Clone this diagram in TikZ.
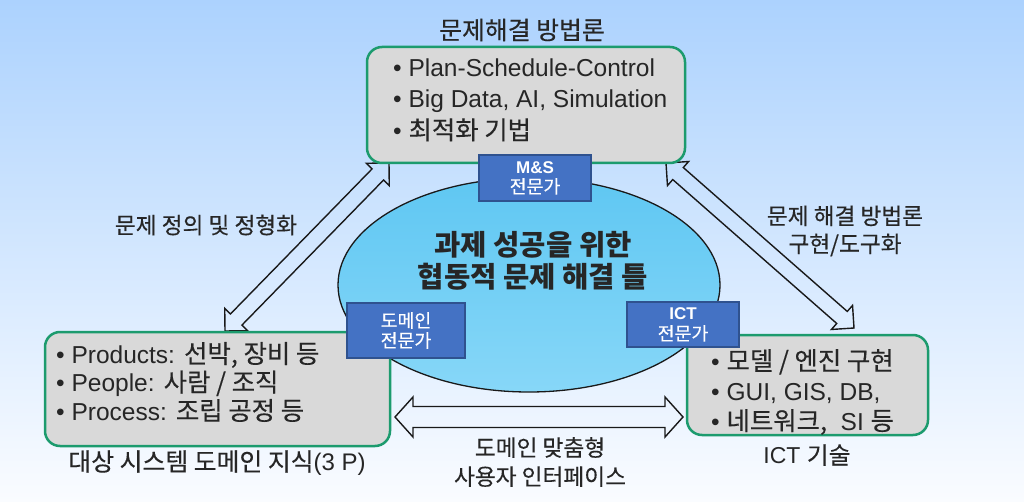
\documentclass[tikz,border=0pt]{standalone}
\usepackage{fontspec}
\setmainfont{Liberation Sans}
\newfontfamily\kr[Scale=1.08, UprightFeatures={FakeBold=0.3}]{Noto Sans CJK KR}
\usetikzlibrary{shapes.geometric,calc}
\definecolor{bgtop}{RGB}{172,210,254}
\definecolor{bgbot}{RGB}{250,252,255}
\definecolor{boxgray}{RGB}{217,217,217}
\definecolor{boxgreen}{RGB}{28,155,110}
\definecolor{elltop}{RGB}{95,199,242}
\definecolor{ellbot}{RGB}{135,215,248}
\definecolor{blfill}{RGB}{68,114,196}
\definecolor{bldraw}{RGB}{47,82,143}
\newcommand\fs[2]{\fontsize{#1}{#2}\selectfont}
\newcommand\kb[1]{{\kr\fontsize{23.5}{28}\selectfont #1}}
\newcommand\dblarr[5]{%
  \coordinate (ah) at ($(#1)!#5!(#2)$);
  \coordinate (bh) at ($(#2)!#5!(#1)$);
  \draw[arrowline] (#1) -- ($(ah)!#4!90:(#2)$) -- ($(ah)!#3!90:(#2)$)
    -- ($(bh)!#3!-90:(#1)$) -- ($(bh)!#4!-90:(#1)$) -- (#2)
    -- ($(bh)!#4!90:(#1)$) -- ($(bh)!#3!90:(#1)$)
    -- ($(ah)!#3!-90:(#2)$) -- ($(ah)!#4!-90:(#2)$) -- cycle;}
\begin{document}
\begin{tikzpicture}[x=1pt,y=-1pt,
  graybox/.style={draw=boxgreen, line width=2.5pt, fill=boxgray, rounded corners=15pt, inner sep=0pt},
  bluebox/.style={draw=bldraw, line width=1.3pt, fill=blfill, text=white, align=center, inner sep=0pt},
  txt/.style={inner sep=0pt, text=black!85},
  arrowline/.style={draw=black!90, line width=1.4pt, line join=miter}]
\useasboundingbox (0,0) rectangle (1024,502);
\shade[top color=bgtop, bottom color=bgbot] (0,0) rectangle (1024,502);

% arrows
\coordinate (la) at (225,331);
\coordinate (lb) at (389,163);
\coordinate (ra) at (666,163);
\coordinate (rb) at (854,328);
\coordinate (ha) at (395,417);
\coordinate (hb) at (683,417);
\dblarr{la}{lb}{8pt}{16pt}{16pt}
\dblarr{ra}{rb}{8pt}{16pt}{16pt}
\dblarr{ha}{hb}{10.5pt}{20pt}{18pt}

% ellipse
\node[ellipse, draw=black!90, line width=1.3pt, top color=elltop, bottom color=ellbot,
  minimum width=382pt, minimum height=214pt, inner sep=0pt] (ell) at (529,285) {};
\node[txt, align=center, font=\kr\bfseries\fs{26.5}{32}] (ctext) at (533,261)
  {과제 성공을 위한\\협동적 문제 해결 틀};

% boxes
\node[graybox, minimum width=318pt, minimum height=116pt] (top) at (526,105) {};
\node[graybox, minimum width=345pt, minimum height=114pt] (left) at (217.5,389) {};
\node[graybox, minimum width=241pt, minimum height=100pt] (right) at (807.5,385) {};

\node[txt, anchor=west, align=left, font=\fs{24.5}{31.5}] (toptext) at (393,100)
  {• Plan-Schedule-Control\\• Big Data, AI, Simulation\\• \kb{최적화 기법}};
\node[txt, anchor=west, align=left, font=\fs{24.5}{28.5}] (lefttext) at (56,382)
  {• Products: \kb{선박, 장비 등}\\• People: \kb{사람 / 조직}\\• Process: \kb{조립 공정 등}};
\node[txt, anchor=west, align=left, font=\fs{24.5}{30}] (righttext) at (711,392)
  {• \kb{모델 / 엔진 구현}\\• GUI, GIS, DB,\\• \kb{네트워크,}~ SI \kb{등}};

% labels
\node[txt, font=\kr\fs{23}{28}] (toptitle) at (522,30) {문제해결 방법론};
\node[txt, font=\kr\fs{21}{26}] (lbl1) at (206,225) {문제 정의 및 정형화};
\node[txt, align=center, font=\kr\fs{21}{28}] (lbl2) at (845,231) {문제 해결 방법론\\구현/도구화};
\node[txt, align=center, font=\kr\fs{21}{29}] (lbl3) at (540,462) {도메인 맞춤형\\사용자 인터페이스};
\node[txt, font=\fs{24}{28}] (lbl4) at (217,463) {{\kr\fontsize{23}{28}\selectfont 대상 시스템 도메인 지식}(3 P)};
\node[txt, font=\fs{23}{28}] (lbl5) at (807,455) {ICT {\kr\fontsize{22}{28}\selectfont 기술}};

% expert boxes
\node[bluebox, minimum width=112pt, minimum height=46pt, font=\fs{17}{20}] (ms) at (535,178)
  {\textbf{M\&S}\\{\kr 전문가}};
\node[bluebox, minimum width=118pt, minimum height=55pt, font=\kr\fs{17}{20}] (dom) at (406,330.5)
  {도메인\\전문가};
\node[bluebox, minimum width=112pt, minimum height=45pt, font=\fs{17}{21}] (ict) at (683,324.5)
  {\textbf{ICT}\\{\kr 전문가}};
\end{tikzpicture}
\end{document}
